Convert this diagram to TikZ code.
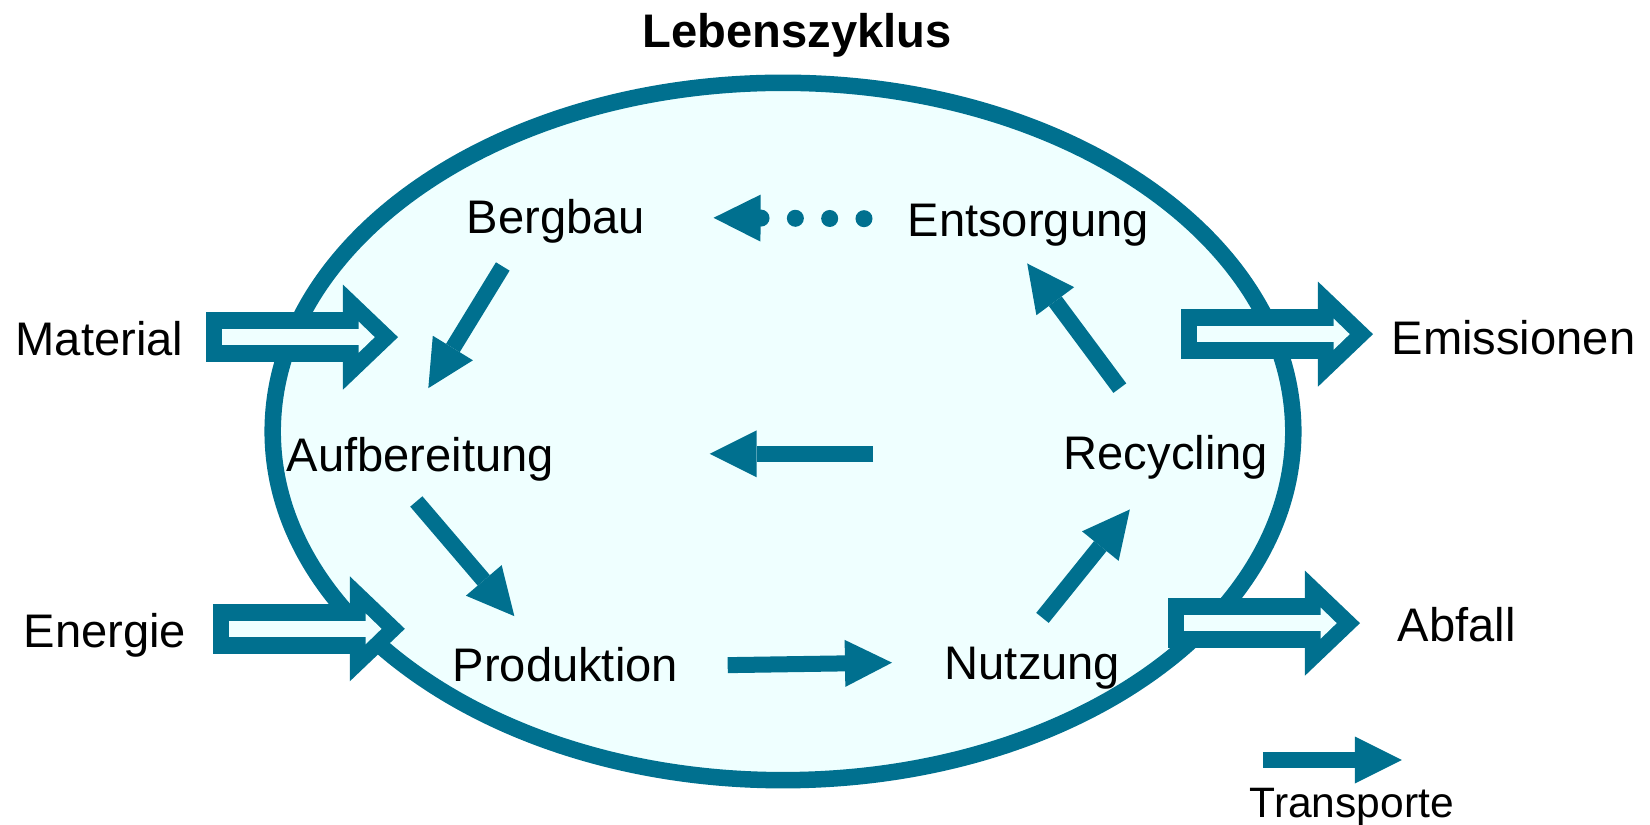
\documentclass[tikz,border=0pt]{standalone}
\usepackage{fontspec}
\setmainfont{Liberation Sans}
\usepackage{tikz}
\usetikzlibrary{arrows.meta,positioning,shapes.geometric}

\definecolor{cyclecol}{HTML}{00708F}
\definecolor{cyclefill}{HTML}{EFFFFF}

\begin{document}
\begin{tikzpicture}[
    x=0.01cm, y=-0.01cm,
    txt/.style={inner sep=0pt, anchor=base west, font=\fontsize{13.4}{16}\selectfont},
    flow/.style={draw=cyclecol, line width=0.16cm, -{Triangle[length=0.47cm, width=0.47cm, line width=0pt]}},
    dotflow/.style={flow, line width=0.17cm, line cap=round, dash pattern=on 0pt off 0.343cm},
    hollow/.style={draw=cyclecol, line width=0.5cm, -{Triangle[length=0.55cm, width=1.05cm, line width=0pt]},
        postaction={draw=cyclefill, line width=0.16cm, shorten <=0.16cm, shorten >=0.233cm,
            -{Triangle[length=0.16cm, width=0.31cm, line width=0pt]}}}
]
    \useasboundingbox (0,0) rectangle (1650,825);

    % Cycle
    \node[ellipse, draw=cyclecol, fill=cyclefill, line width=0.165cm,
          minimum width=10.2cm, minimum height=6.97cm, inner sep=0pt] (zyklus) at (783,431.5) {};
    \node[txt, font=\fontsize{13.4}{16}\selectfont\bfseries] (titel) at (642,48) {Lebenszyklus};

    % Stages
    \node[txt] (bergbau) at (466,234) {Bergbau};
    \node[txt] (entsorgung) at (907,237) {Entsorgung};
    \node[txt] (aufbereitung) at (286,472) {Aufbereitung};
    \node[txt] (recycling) at (1063,470) {Recycling};
    \node[txt] (produktion) at (452,682) {Produktion};
    \node[txt] (nutzung) at (944,680) {Nutzung};

    % Inputs and outputs
    \node[txt] (material) at (15,356) {Material};
    \node[txt] (energie) at (23,648) {Energie};
    \node[txt] (emissionen) at (1391,355) {Emissionen};
    \node[txt] (abfall) at (1397,642) {Abfall};

    % Legend
    \node[txt, font=\fontsize{12.1}{14}\selectfont] (transporte) at (1249,818) {Transporte};

    % Arrows
    \draw[flow] ([shift={(-53,22)}]bergbau.south) -- ([shift={(8,-49)}]aufbereitung.north);
    \draw[flow] ([shift={(-4,19)}]aufbereitung.south) -- ([shift={(-51,-31)}]produktion.north);
    \draw[flow] ([shift={(49,0)}]produktion.east) -- ([shift={(-52,-6)}]nutzung.west);
    \draw[flow] ([shift={(10,-29)}]nutzung.north) -- ([shift={(-36,29)}]recycling.south);
    \draw[flow] ([shift={(-46,-47)}]recycling.north) -- ([shift={(-1,16)}]entsorgung.south);
    \draw[flow] ([shift={(-190,-4)}]recycling.west) -- ([shift={(155,-6)}]aufbereitung.east);
    \draw[dotflow] ([shift={(-43,-7)}]entsorgung.west) -- ([shift={(68,-4)}]bergbau.east);

    % In and out
    \draw[hollow] ([shift={(22,-2)}]material.east) -- ++(192,0);
    \draw[hollow] ([shift={(26,-7)}]energie.east) -- ++(192,0);
    \draw[hollow] ([shift={(-210,-4)}]emissionen.west) -- ++(192,0);
    \draw[hollow] ([shift={(-229,-2)}]abfall.west) -- ++(192,0);

    \draw[flow] ([shift={(-89,-28)}]transporte.north) -- ++(139,0);

\end{tikzpicture}
\end{document}
